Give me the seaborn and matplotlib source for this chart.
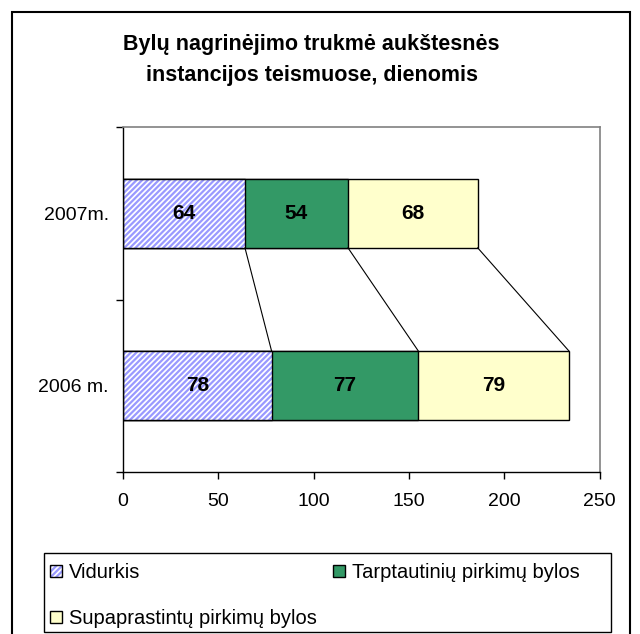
import numpy as np
import pandas as pd
import matplotlib.pyplot as plt
import seaborn as sns
from matplotlib.patches import Patch, Rectangle
from matplotlib.legend_handler import HandlerTuple

# Duomenys
metai = ["2007m.", "2006 m."]
vidurkis = [64, 78]
tarptautiniu = [54, 77]
supaprastintu = [68, 79]
serijos = ["Vidurkis", "Tarptautinių pirkimų bylos", "Supaprastintų pirkimų bylos"]
spalvos = ["#9999ff", "#339966", "#ffffcc"]

sns.set_style("white")
plt.rcParams["font.family"] = ["Liberation Sans", "DejaVu Sans"]
plt.rcParams["hatch.linewidth"] = 1.6
for k in ["text.color", "xtick.color", "ytick.color", "axes.labelcolor"]:
    plt.rcParams[k] = "black"

df = pd.DataFrame({"metai": metai, serijos[0]: vidurkis,
                   serijos[1]: tarptautiniu, serijos[2]: supaprastintu})
cum = df[serijos].cumsum(axis=1)

fig = plt.figure(figsize=(6.4, 6.34), dpi=100)
ax = fig.add_axes([0.192, 0.2555, 0.745, 0.5442])

BW = 0.4
# sukauptos juostos, nuo galo
sns.barplot(x=cum[serijos[2]], y=df["metai"], order=metai, orient="h", color=spalvos[2],
            saturation=1, width=BW, edgecolor="black", linewidth=1, ax=ax)
sns.barplot(x=cum[serijos[1]], y=df["metai"], order=metai, orient="h", color=spalvos[1],
            saturation=1, width=BW, edgecolor="black", linewidth=1, ax=ax)
sns.barplot(x=cum[serijos[0]], y=df["metai"], order=metai, orient="h", color="white",
            saturation=1, width=BW, edgecolor=spalvos[0], linewidth=0, hatch="//////", ax=ax)
sns.barplot(x=cum[serijos[0]], y=df["metai"], order=metai, orient="h", fill=False,
            color="black", width=BW, linewidth=1, ax=ax)

# reikšmės
for i in range(len(metai)):
    for s in serijos:
        v = df[s][i]
        ax.text(cum[s][i] - v / 2, i, str(v), ha="center", va="center",
                fontsize=15, fontweight="bold")

# jungiamosios linijos
for s in serijos:
    ax.plot([cum[s][0], cum[s][1]], [BW / 2, 1 - BW / 2], color="black", lw=0.8)

ax.set_xlim(0, 250)
ax.set_xticks([0, 50, 100, 150, 200, 250])
ax.set_ylim(1.5, -0.5)
ax.set_xlabel("")
ax.set_ylabel("")
ax.set_yticks([-0.5, 0.5, 1.5], minor=True)
ax.tick_params(axis="y", which="major", length=0, labelsize=14, pad=10)
ax.tick_params(axis="y", which="minor", length=5, width=1, color="black", direction="out", left=True)
ax.tick_params(axis="x", length=5, width=1, color="black", direction="out", labelsize=14, bottom=True, pad=10)
for s in ["left", "bottom"]:
    ax.spines[s].set_color("black")
    ax.spines[s].set_linewidth(1)
for s in ["top", "right"]:
    ax.spines[s].set_color("#808080")
    ax.spines[s].set_linewidth(1.2)

fig.text(0.487, 0.905, "Bylų nagrinėjimo trukmė aukštesnės\ninstancijos teismuose, dienomis",
         ha="center", va="center", fontsize=15.5, fontweight="bold", linespacing=1.6)

# legenda
h1 = (Patch(facecolor="white", edgecolor=spalvos[0], hatch="//////", linewidth=0),
      Patch(facecolor="none", edgecolor="black", linewidth=1))
h2 = Patch(facecolor=spalvos[1], edgecolor="black", linewidth=1)
h3 = Patch(facecolor=spalvos[2], edgecolor="black", linewidth=1)
# stulpeliais: pirmas stulpelis V + S, antras T
leg = fig.legend([h1, h3, h2], [serijos[0], serijos[2], serijos[1]], loc="upper left", ncol=2,
                 bbox_to_anchor=(50 / 640, 1 - 563 / 634),
                 fontsize=14.5, frameon=False, borderpad=0, borderaxespad=0,
                 handlelength=0.6, handleheight=0.6, handletextpad=0.35,
                 labelspacing=1.35, columnspacing=0.8,
                 handler_map={tuple: HandlerTuple(ndivide=1)})

fig.add_artist(Rectangle((44 / 640, 1 - 632 / 634), 567 / 640, 79 / 634,
                         transform=fig.transFigure, fill=False, edgecolor="black", lw=1))
fig.add_artist(Rectangle((12 / 640, -0.02), 618 / 640, 1 - 12 / 634 + 0.02,
                         transform=fig.transFigure, fill=False, edgecolor="black", lw=1.5))

fig.savefig("out.png", dpi=100)
